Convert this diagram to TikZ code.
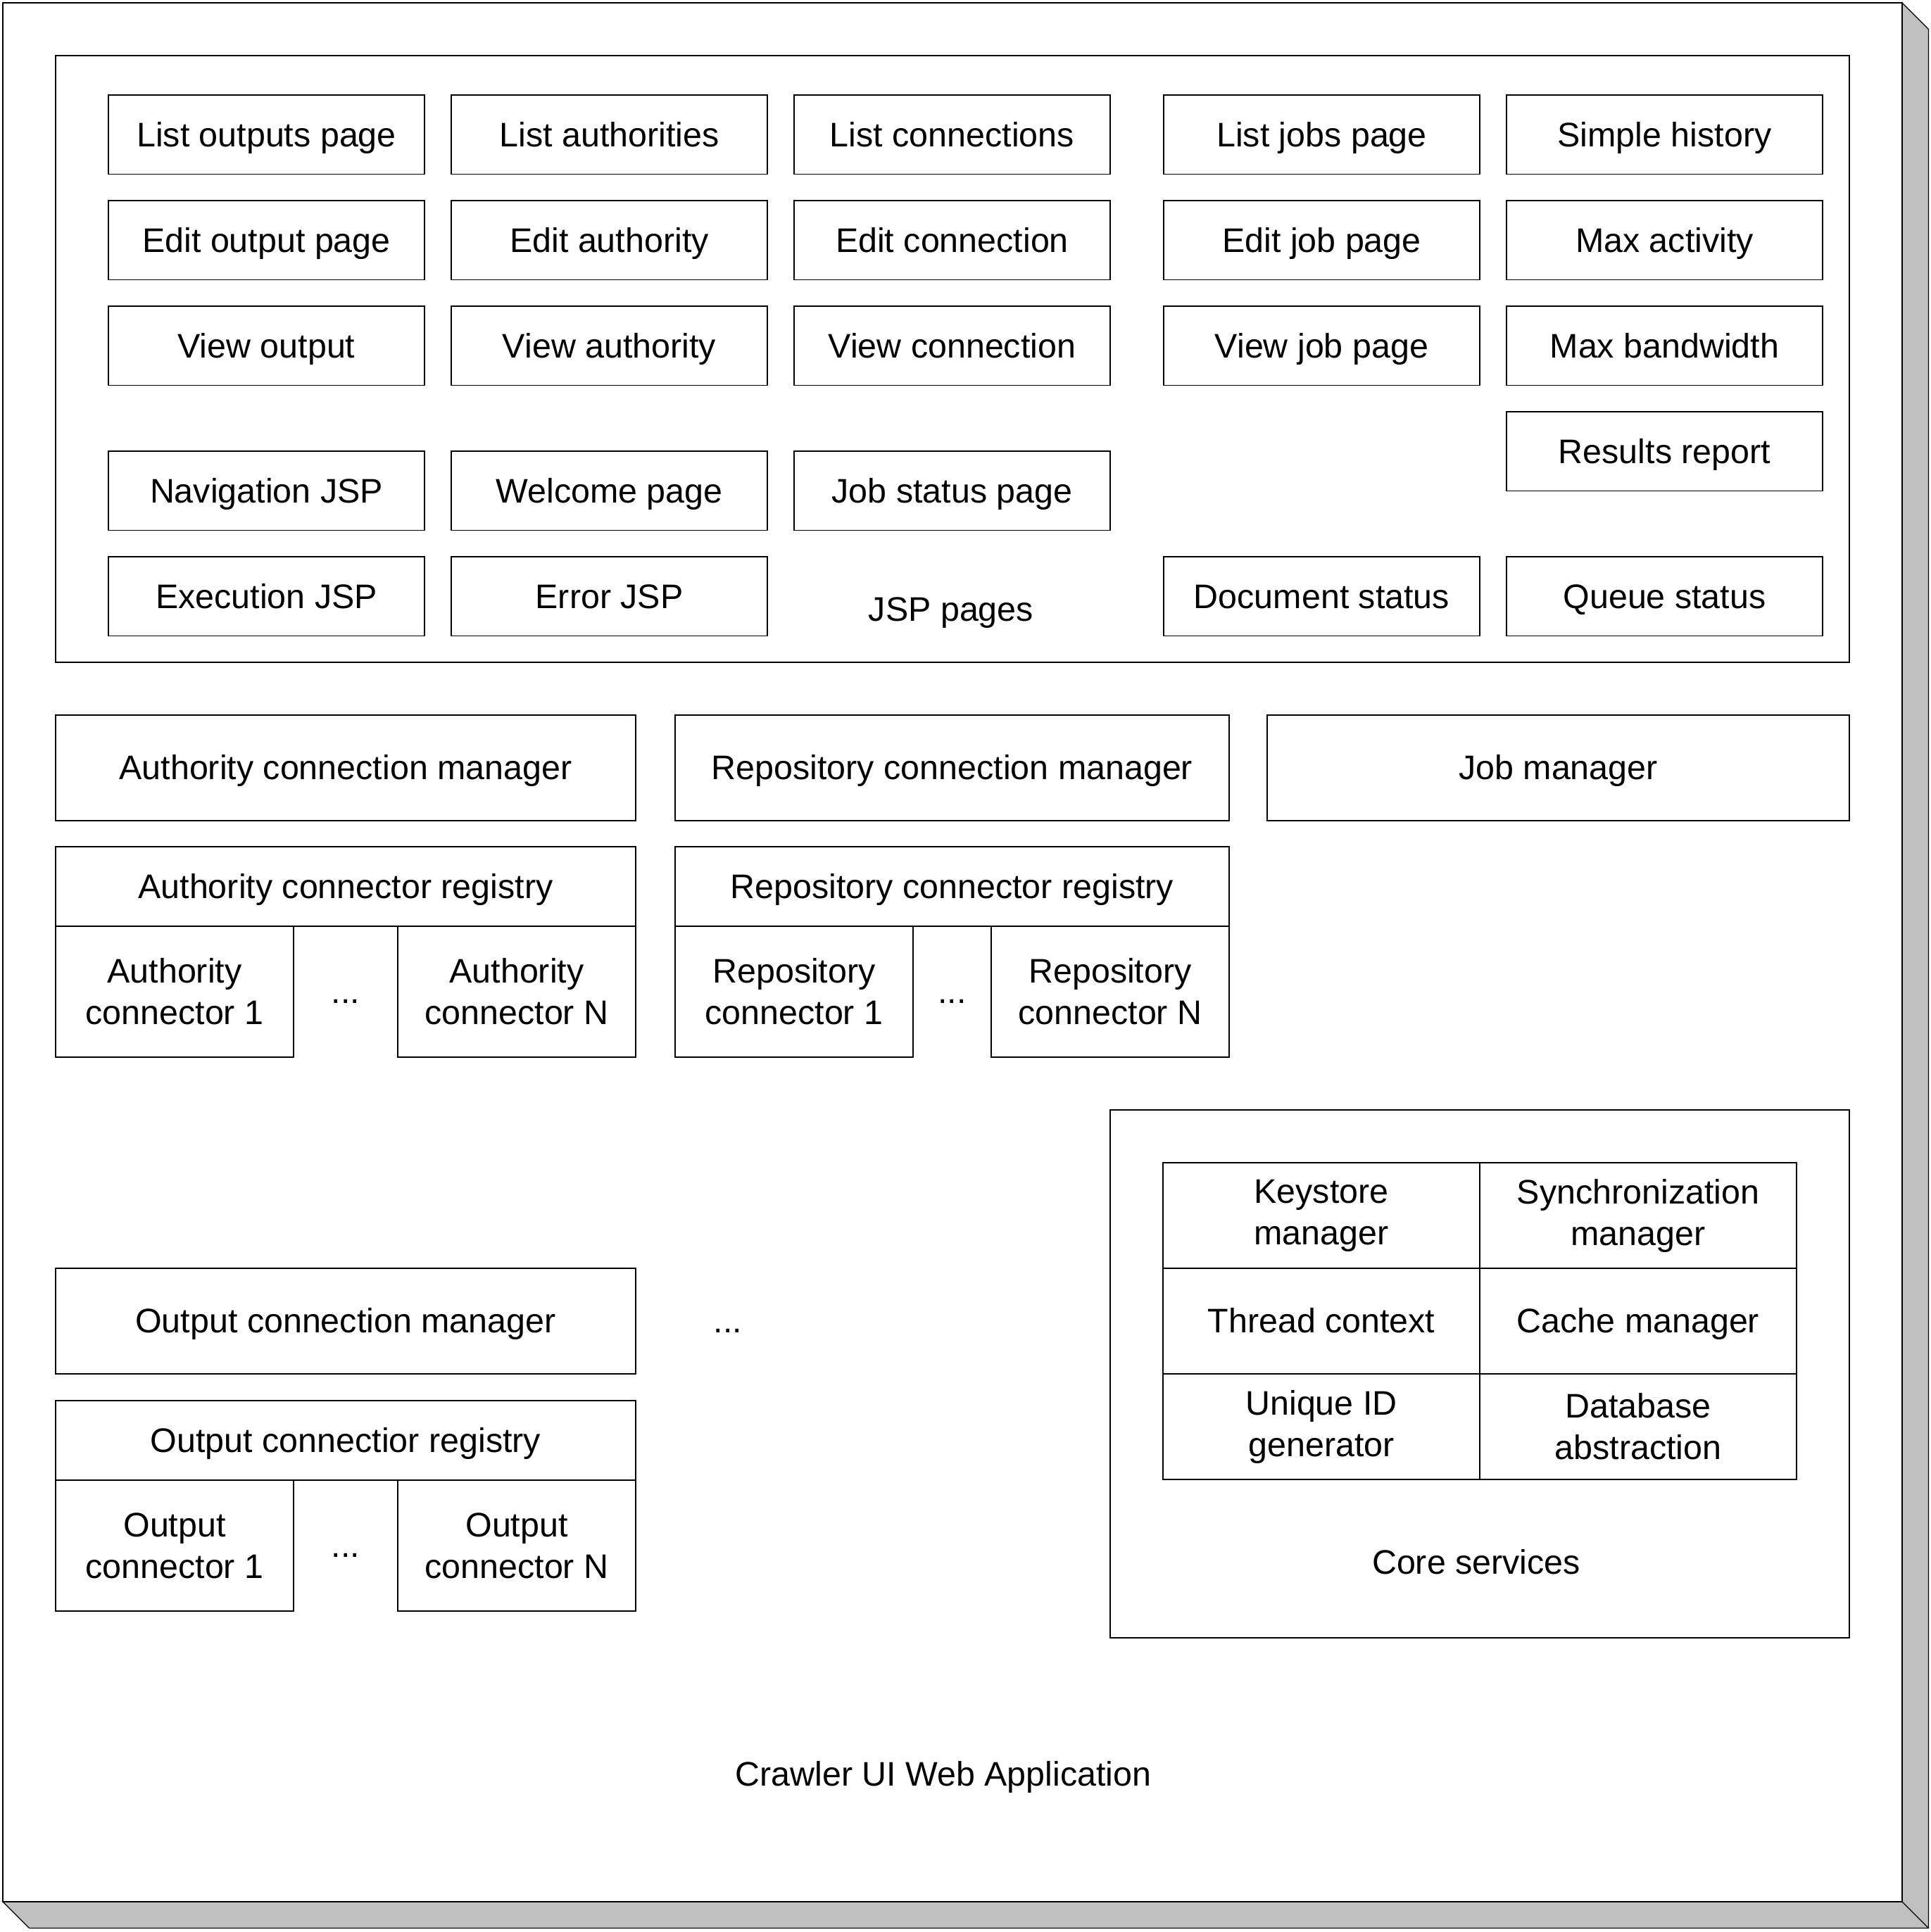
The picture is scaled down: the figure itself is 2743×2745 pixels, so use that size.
\documentclass[tikz,border=0pt]{standalone}
\usepackage{fontspec}
\setmainfont{Liberation Sans}
\usetikzlibrary{positioning, calc}
\definecolor{shadowgray}{RGB}{192,192,192}

\begin{document}
\begin{tikzpicture}[x=0.25pt, y=-0.25pt, line width=0.3pt,
    every node/.style={font=\fontsize{12.1}{14.75}\selectfont, inner sep=0pt, outer sep=0pt},
    onetext/.style={text height=10.95pt, text depth=2.57pt},
    pagebox/.style={draw, onetext, minimum width=112.25pt, minimum height=28.125pt},
    mgrbox/.style={draw, onetext, minimum height=37.5pt},
    regbox/.style={draw, onetext, minimum height=28.25pt},
    connbox/.style={draw, align=center, minimum width=84.5pt, minimum height=46.5pt},
    cellbox/.style={draw, align=center, minimum width=112.5pt, minimum height=37.5pt},
    gapdots/.style={onetext},
    caption/.style={anchor=base}]
    \useasboundingbox (0,0) rectangle (2743,2745);

    % drop shadow and outer frame
    \filldraw[fill=shadowgray] (2702,4) -- (2739.5,41.5) -- (2739.5,2739.5) -- (41.5,2739.5)
        -- (4,2702) -- (2702,2702) -- cycle;
    \draw (2702,2702) -- (2739.5,2739.5);
    \draw (4,4) rectangle (2702,2702);
    \node[caption] (applabel) at (1340,2537) {Crawler UI Web Application};

    % JSP pages
    \draw (79,79) rectangle (2627,941);
    \node[pagebox, anchor=north west] (listout) at (154,135) {List outputs page};
    \node[pagebox, right=9.5pt of listout] (listauth) {List authorities};
    \node[pagebox, right=9.5pt of listauth] (listconn) {List connections};
    \node[pagebox, right=19pt of listconn] (listjobs) {List jobs page};
    \node[pagebox, right=9.5pt of listjobs] (history) {Simple history};
    \node[pagebox, below=9.375pt of listout] (editout) {Edit output page};
    \node[pagebox, below=9.375pt of listauth] (editauth) {Edit authority};
    \node[pagebox, below=9.375pt of listconn] (editconn) {Edit connection};
    \node[pagebox, below=9.375pt of listjobs] (editjob) {Edit job page};
    \node[pagebox, below=9.375pt of history] (maxact) {Max activity};
    \node[pagebox, below=9.375pt of editout] (viewout) {View output};
    \node[pagebox, below=9.375pt of editauth] (viewauth) {View authority};
    \node[pagebox, below=9.375pt of editconn] (viewconn) {View connection};
    \node[pagebox, below=9.375pt of editjob] (viewjob) {View job page};
    \node[pagebox, below=9.375pt of maxact] (maxbw) {Max bandwidth};
    \node[pagebox, below=9.375pt of maxbw] (results) {Results report};
    \node[pagebox, below=23.375pt of viewout] (nav) {Navigation JSP};
    \node[pagebox, below=23.375pt of viewauth] (welcome) {Welcome page};
    \node[pagebox, below=23.375pt of viewconn] (jobstatus) {Job status page};
    \node[pagebox, below=9.375pt of nav] (exec) {Execution JSP};
    \node[pagebox, below=9.375pt of welcome] (error) {Error JSP};
    \node[pagebox, below=23.375pt of results] (queue) {Queue status};
    \node[pagebox, left=9.5pt of queue] (docstatus) {Document status};
    \node[caption] (jsplabel) at (1351,882) {JSP pages};

    % connection managers
    \node[mgrbox, minimum width=206pt, anchor=north west] (authmgr) at (79,1016) {Authority connection manager};
    \node[mgrbox, minimum width=196.75pt, right=14pt of authmgr] (repomgr) {Repository connection manager};
    \node[mgrbox, minimum width=206.75pt, right=13.5pt of repomgr] (jobmgr) {Job manager};

    \node[regbox, minimum width=206pt, below=9.25pt of authmgr] (authreg) {Authority connector registry};
    \node[connbox, anchor=north west] (authc1) at (authreg.south west) {Authority\\connector 1};
    \node[connbox, anchor=north east] (authcn) at (authreg.south east) {Authority\\connector N};
    \node[gapdots] (authdots) at ($(authc1.east)!0.5!(authcn.west)$) {...};

    \node[regbox, minimum width=196.75pt, below=9.25pt of repomgr] (reporeg) {Repository connector registry};
    \node[connbox, anchor=north west] (repoc1) at (reporeg.south west) {Repository\\connector 1};
    \node[connbox, anchor=north east] (repocn) at (reporeg.south east) {Repository\\connector N};
    \node[gapdots] (repodots) at ($(repoc1.east)!0.5!(repocn.west)$) {...};

    \node[mgrbox, minimum width=206pt, anchor=north west] (outmgr) at (79,1802) {Output connection manager};
    \node[gapdots] (outdots) at (1034,1877) {...};
    \node[regbox, minimum width=206pt, below=9.5pt of outmgr] (outreg) {Output connectior registry};
    \node[connbox, anchor=north west] (outc1) at (outreg.south west) {Output\\connector 1};
    \node[connbox, anchor=north east] (outcn) at (outreg.south east) {Output\\connector N};
    \node[gapdots] (outcdots) at ($(outc1.east)!0.5!(outcn.west)$) {...};

    % core services
    \draw (1577,1577) rectangle (2627,2327);
    \node[cellbox, anchor=north west] (keystore) at (1652,1652) {Keystore\\manager};
    \node[cellbox, right=0pt of keystore] (sync) {Synchronization\\manager};
    \node[cellbox, onetext, below=0pt of keystore] (thread) {Thread context};
    \node[cellbox, onetext, below=0pt of sync] (cache) {Cache manager};
    \node[cellbox, below=0pt of thread] (uniqueid) {Unique ID\\generator};
    \node[cellbox, below=0pt of cache] (database) {Database\\abstraction};
    \node[caption] (corelabel) at (2097,2236) {Core services};
\end{tikzpicture}
\end{document}
